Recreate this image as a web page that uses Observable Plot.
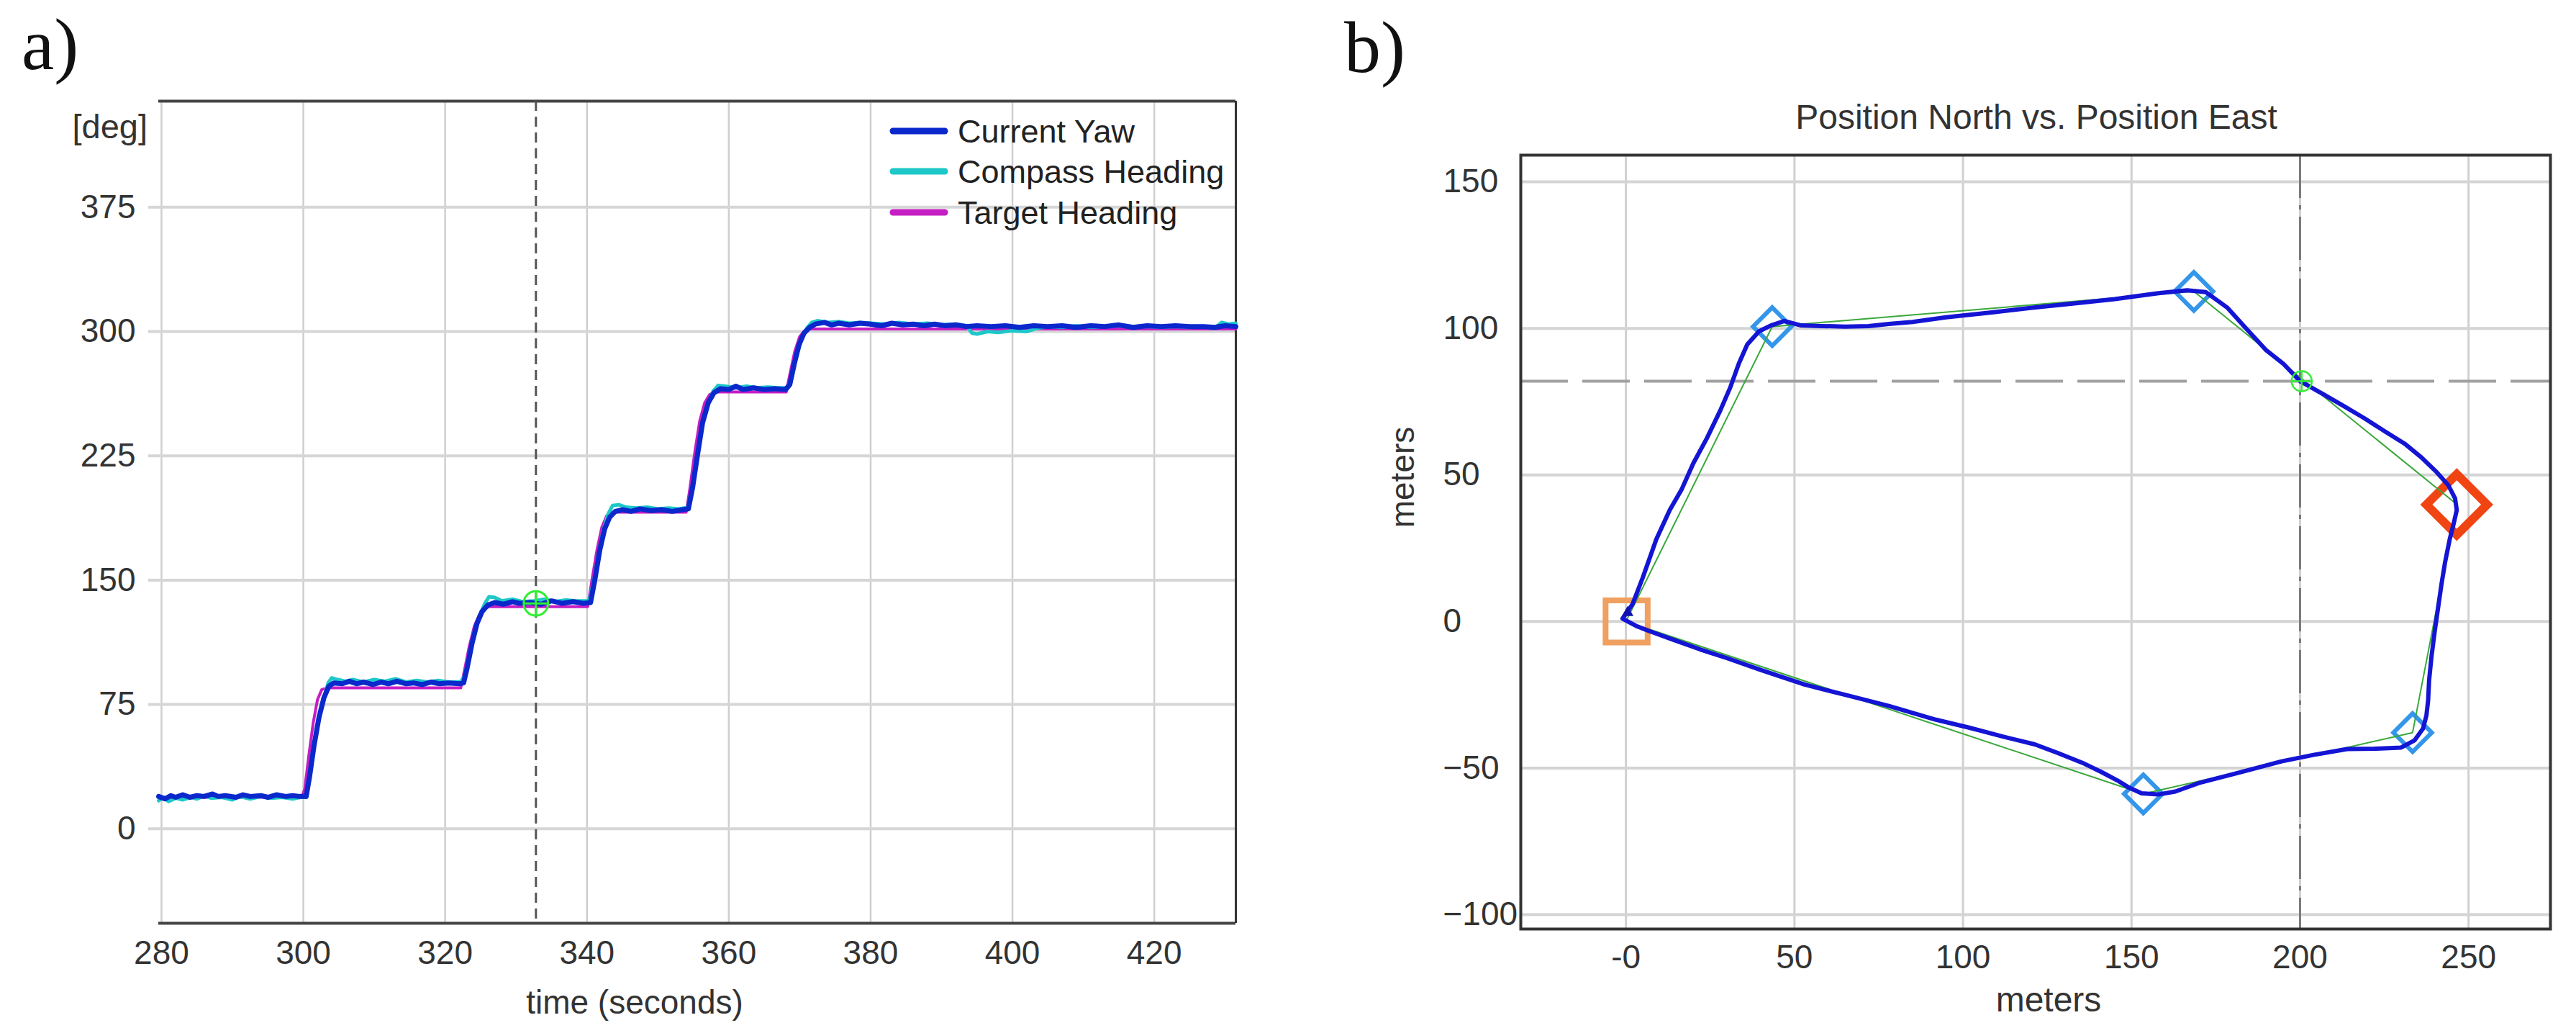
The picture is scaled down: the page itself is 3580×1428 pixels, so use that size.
<!DOCTYPE html>
<html>
<head>
<meta charset="utf-8">
<script src="https://cdn.jsdelivr.net/npm/d3@7"></script>
<script src="https://cdn.jsdelivr.net/npm/@observablehq/plot@0.6"></script>
<style>
  html, body { margin: 0; padding: 0; background: #ffffff; }
  #wrap { position: relative; width: 3580px; height: 1428px; background: #ffffff; overflow: hidden; }
  #wrap > svg { position: absolute; top: 0; }
</style>
</head>
<body>
<div id="wrap"></div>
<script>
// ---------------- Panel a data ----------------
const timeTicks = [280, 300, 320, 340, 360, 380, 400, 420];
const degTicks = [0, 75, 150, 225, 300, 375];
const xDomainA = [279.6, 431.5];
const yDomainA = [-57, 439];
const seriesNames = ["Current Yaw", "Compass Heading", "Target Heading"];
const seriesColors = ["#0a28cc", "#1ec8c8", "#c41ec4"];

const currentYaw = [
[279.6,19.5],[280.5,18],[281.3,20],[282,19],[283,20.5],[284,19],[285,20],[286,19.5],[287.2,21],[288,19.5],[289,20],[290.5,19],[291.5,20.5],[292.5,19.5],[294,20],[295,19],[296.2,20.5],[297.5,19.5],[298.5,20],[299.5,19.5],[300.4,19.5],[300.9,32],[301.5,50],[302.2,67],[302.9,79],[303.6,86],[304.3,88],[305.5,87.5],[306.5,89],[307.5,87.5],[308.5,88.5],[309.8,87],[311,88.5],[312,87.5],[313.2,89],[314.5,87.5],[315.5,88],[316.8,87],[318,88.5],[319.2,87.5],[320.5,88],[322,87.5],[322.6,88],[323.1,97],[323.8,112],[324.5,124],[325.2,131],[326,135],[327,136.5],[328.2,135.5],[329.5,137],[330.5,136],[332,136.5],[333.5,135.5],[335,137.5],[336.5,136],[338,137],[339.5,136],[340.5,136.5],[341.1,150],[341.8,168],[342.5,181],[343.2,188],[344,191.5],[345,192.5],[346.2,191.5],[347.5,193],[349,192],[350.5,192.5],[352,191.5],[353.5,192.5],[354.3,193],[354.9,206],[355.6,226],[356.3,245],[357.1,257],[357.9,263],[358.8,265.5],[360,265],[361,267],[362,265],[363.5,266],[365,265],[366.5,265.5],[368,265],[368.6,268],[369.2,280],[369.9,292],[370.6,299],[371.4,302.5],[372.2,304.5],[373.5,305.5],[374.5,304],[375.5,305],[377,304],[378.5,305],[380,304.5],[381.5,303.5],[383,305],[384.5,304],[386,304.5],[387.5,303.5],[389,304.5],[390.5,303.5],[392,304],[393.5,303],[395,303.5],[397,303],[399,303.5],[401,302.5],[403,303.5],[405,303],[407,303.5],[409,302.5],[411,303.5],[413,303],[415,304],[417,302.5],[419,303.5],[421,303],[423,303.5],[425,303],[427,303],[428.5,302.5],[430,303.5],[431.5,303]
];

const compassHeading = [
[279.6,17],[280.3,19],[281,16.5],[282,18.5],[283,17.5],[284.2,19],[285,18],[286,20],[287,18.5],[288.5,19],[290,17.5],[291,19.5],[292.5,18],[294,19.5],[295.5,18.5],[297,19],[298.5,18],[299.6,19],[300.4,19],[300.9,31],[301.5,49],[302.2,66],[302.9,79],[303.5,88],[304,91],[304.8,90],[306,89],[307,90],[308.5,88.5],[310,90],[311.5,89],[313,90.5],[314.5,88.5],[316,89.5],[317.5,88.5],[319,89.5],[320.5,88.5],[322.2,88.5],[322.8,93],[323.4,105],[324.1,119],[324.9,129],[325.6,136],[326.2,140],[327,139.5],[328,137.5],[329.5,138.5],[331,137],[332.5,137.5],[334,138.5],[335.5,137],[337,138],[338.5,137.5],[340.3,137.5],[340.9,148],[341.6,165],[342.3,180],[343,190],[343.6,195],[344.5,195.5],[345.5,194],[347,193.5],[348.5,194],[350,193],[351.5,193.5],[353,193],[354.2,194],[354.8,204],[355.5,224],[356.2,243],[357,256],[357.8,264],[358.5,267.5],[359.5,267],[361,266],[362.5,267],[364,266],[365.5,266.5],[367,266],[368.3,266],[368.9,272],[369.6,286],[370.3,296],[371,302],[371.7,305.5],[372.5,306.5],[374,305.5],[375.5,306],[377,305],[378.5,305.5],[380,305],[382,304.5],[384,305.5],[386,304.5],[388,305],[390,304],[392,304.5],[393.5,303.5],[394.3,299],[395,298.5],[396.5,300],[398,299.5],[400,300.5],[402,300],[403.5,302],[405,303],[407,302.5],[409,303.5],[411,302.5],[413,303],[415,303.5],[417,302.5],[419,303],[421,302.5],[423,303],[425,302.5],[427,303],[428.5,302],[429.5,305.5],[430.5,304.5],[431.5,305]
];

const targetHeading = [
[279.6,19],[299.8,19],[300.2,24],[300.8,45],[301.4,64],[302,78],[302.6,84],[303.4,85],[322.2,85],[322.7,95],[323.4,110],[324.1,122],[324.8,129],[325.5,133],[326.2,134],[340.1,134],[340.7,150],[341.4,168],[342.1,182],[342.8,189],[343.6,191],[354,191],[354.5,205],[355.2,227],[355.9,246],[356.6,257],[357.3,262],[358,263.5],[368.1,263.5],[368.6,274],[369.3,288],[370,297],[370.7,300.5],[371.5,301.5],[431.5,301.5]
];

const cursorTime = [332.8];
const cursorPointA = [[332.8, 136]];

// ---------------- Panel b data ----------------
const eastTicks = [0, 50, 100, 150, 200, 250];
const northTicks = [-100, -50, 0, 50, 100, 150];
const xDomainB = [-31.2, 274.3];
const yDomainB = [-104.9, 159.1];

const positionTrack = [
[-1,1],[2,6],[5,15],[9,28],[13,38],[16.5,45],[20,54],[24,62.5],[28,72],[31,80],[33.5,88],[36,94.5],[39.5,99],[43,101],[47,102.5],[52,101],[58,100.8],[65,100.6],[72,100.8],[78,101.5],[85,102.2],[95,103.8],[109,105.5],[120,107],[133,108.5],[145,110],[158,112],[166.5,113],[172,112.4],[178.5,107],[184,100],[190,92.5],[195,88],[200,82],[207,77.5],[213,73.5],[219,69.4],[225,65],[231,60.7],[236,56],[240.5,51],[244,46.5],[246,42],[246.5,38],[245.5,33],[244.4,28],[243,20],[242,13],[241,5],[240,-3],[239,-12],[238.3,-20],[238,-27],[237.5,-32],[236.5,-36.5],[234,-40.5],[230,-43],[222,-43.4],[214,-43.5],[204,-45.5],[194.5,-47.7],[182,-51.5],[170,-55.1],[163,-58],[158,-59],[153,-58.6],[149,-56.5],[145.8,-54.2],[141,-51.3],[136,-48.5],[128,-44.8],[121.3,-41.9],[112,-39.3],[101.8,-36.2],[92,-33.5],[78,-28.8],[65,-25],[53,-21.5],[40,-16.5],[30,-12.5],[22,-9.5],[14,-6.2],[7,-3.3],[3,-1.5],[-1,1]
];

const plannedPath = [[0,0],[43.4,100.6],[168.5,112.6],[246.5,40],[233.4,-37.9],[153.5,-58.8],[0,0]];
const waypoints = [[43.4,100.6],[168.5,112.6],[233.4,-37.9],[153.5,-58.8]];
const activeWaypoint = [[246.5,39.9]];
const homePoint = [[0.2,0]];
const startMarker = [[0.5,3]];
const cursorEast = [200];
const cursorNorth = [82];
const cursorPointB = [[200.5,82]];

// ---------------- Panel a ----------------
const fontFam = "'Liberation Sans', Arial, sans-serif";
const px = d => d[0], py = d => d[1];

const plotA = Plot.plot({
  width: 1790, height: 1428,
  marginLeft: 220, marginRight: 73, marginTop: 140, marginBottom: 146,
  x: {domain: xDomainA},
  y: {domain: yDomainA},
  style: {fontFamily: fontFam, background: "transparent", color: "#333"},
  marks: [
    Plot.gridX(timeTicks, {stroke: "#cfcfcf", strokeOpacity: 1, strokeWidth: 2.5}),
    Plot.gridY(degTicks, {stroke: "#d6d6d6", strokeOpacity: 1, strokeWidth: 4}),
    Plot.axisY(degTicks, {anchor: "left", tickSize: 14, tickPadding: 18, stroke: "#d6d6d6", strokeWidth: 4, fill: "#333", fontSize: 46, label: null}),
    Plot.axisX(timeTicks, {anchor: "bottom", tickSize: 0, tickPadding: 24, fill: "#333", fontSize: 46, label: null}),
    Plot.ruleY([yDomainA[0]], {stroke: "#444", strokeWidth: 4}),
    Plot.ruleY([yDomainA[1]], {stroke: "#444", strokeWidth: 4}),
    Plot.ruleX([xDomainA[1]], {stroke: "#333", strokeWidth: 3}),
    Plot.ruleX(cursorTime, {stroke: "#555", strokeWidth: 3, strokeDasharray: "14,8"}),
    Plot.line(targetHeading, {x: px, y: py, stroke: seriesColors[2], strokeWidth: 4}),
    Plot.line(compassHeading, {x: px, y: py, stroke: seriesColors[1], strokeWidth: 5}),
    Plot.line(currentYaw, {x: px, y: py, stroke: seriesColors[0], strokeWidth: 7}),
    Plot.dot(cursorPointA, {x: px, y: py, r: 17, stroke: "#33ee33", strokeWidth: 3, fill: "none"}),
    Plot.dot(cursorPointA, {x: px, y: py, r: 11, symbol: "plus", stroke: "#33ee33", strokeWidth: 3})
  ]
});
plotA.style.left = "0px";

// ---------------- Panel b ----------------
const plotB = Plot.plot({
  width: 1790, height: 1428,
  marginLeft: 323, marginRight: 36, marginTop: 215, marginBottom: 138,
  x: {domain: xDomainB},
  y: {domain: yDomainB},
  style: {fontFamily: fontFam, background: "transparent", color: "#333"},
  marks: [
    Plot.gridX(eastTicks, {stroke: "#d0d0d0", strokeOpacity: 1, strokeWidth: 3}),
    Plot.gridY(northTicks, {stroke: "#d4d4d4", strokeOpacity: 1, strokeWidth: 4}),
    Plot.axisY(northTicks, {anchor: "left", tickSize: 0, tickPadding: 108, textAnchor: "start", fill: "#333", fontSize: 46, label: null}),
    Plot.axisX(eastTicks, {anchor: "bottom", tickSize: 0, tickPadding: 22, fill: "#333", fontSize: 46, label: null, tickFormat: d => d === 0 ? "-0" : String(d)}),
    Plot.ruleY(cursorNorth, {stroke: "#a0a0a0", strokeWidth: 4, strokeDasharray: "66,20"}),
    Plot.ruleX(cursorEast, {stroke: "#6a6a6a", strokeWidth: 2.5, strokeDasharray: "60,10,6,10"}),
    Plot.dot(homePoint, {x: px, y: py, symbol: "square", r: 33, stroke: "#f0a060", strokeWidth: 8, fill: "none"}),
    Plot.dot(waypoints, {x: px, y: py, symbol: "diamond2", r: 24, stroke: "#3396ea", strokeWidth: 6, fill: "none"}),
    Plot.dot(activeWaypoint, {x: px, y: py, symbol: "diamond2", r: 38, stroke: "#f04412", strokeWidth: 12, fill: "none"}),
    Plot.line(plannedPath, {x: px, y: py, stroke: "#3aa83a", strokeWidth: 2}),
    Plot.line(positionTrack, {x: px, y: py, stroke: "#1414d4", strokeWidth: 6}),
    Plot.dot(startMarker, {x: px, y: py, symbol: "triangle", r: 6, fill: "#1010b0"}),
    Plot.dot(cursorPointB, {x: px, y: py, r: 14, stroke: "#33ee33", strokeWidth: 2.5, fill: "none"}),
    Plot.dot(cursorPointB, {x: px, y: py, r: 9, symbol: "plus", stroke: "#33ee33", strokeWidth: 2.5}),
    Plot.frame({stroke: "#333", strokeWidth: 4})
  ]
});
plotB.style.left = "1790px";

const wrap = document.getElementById("wrap");
wrap.appendChild(plotA);
wrap.appendChild(plotB);

// ---------------- Text overlay (labels, title, legend) ----------------
const NS = "http://www.w3.org/2000/svg";
const over = document.createElementNS(NS, "svg");
over.setAttribute("width", 3580);
over.setAttribute("height", 1428);
over.style.left = "0px";
over.style.pointerEvents = "none";
wrap.appendChild(over);

function addText(str, x, y, size, opts = {}) {
  const t = document.createElementNS(NS, "text");
  t.textContent = str;
  t.setAttribute("x", x);
  t.setAttribute("y", y);
  t.setAttribute("font-size", size);
  t.setAttribute("font-family", opts.family || fontFam);
  t.setAttribute("fill", opts.fill || "#333");
  t.setAttribute("text-anchor", opts.anchor || "start");
  if (opts.transform) t.setAttribute("transform", opts.transform);
  over.appendChild(t);
  return t;
}

const serif = "'Liberation Serif', 'Times New Roman', serif";
addText("a)", 30, 96, 102, {family: serif, fill: "#111"});
addText("b)", 1868, 100, 102, {family: serif, fill: "#111"});
addText("[deg]", 205, 192, 47, {anchor: "end"});
addText("time (seconds)", 882, 1408, 46, {anchor: "middle"});
addText("Position North vs. Position East", 2830, 179, 48, {anchor: "middle"});
addText("meters", 2847, 1405, 48, {anchor: "middle"});
addText("meters", 0, 0, 46, {anchor: "middle", transform: "translate(1965,663) rotate(-90)"});

// legend inside panel a
const legendRows = [182, 238, 295];
seriesNames.forEach((name, i) => {
  const l = document.createElementNS(NS, "line");
  l.setAttribute("x1", 1241); l.setAttribute("x2", 1313);
  l.setAttribute("y1", legendRows[i]); l.setAttribute("y2", legendRows[i]);
  l.setAttribute("stroke", seriesColors[i]);
  l.setAttribute("stroke-width", 9);
  l.setAttribute("stroke-linecap", "round");
  over.appendChild(l);
  addText(name, 1331, legendRows[i] + 16, 45, {fill: "#222"});
});
</script>
</body>
</html>
